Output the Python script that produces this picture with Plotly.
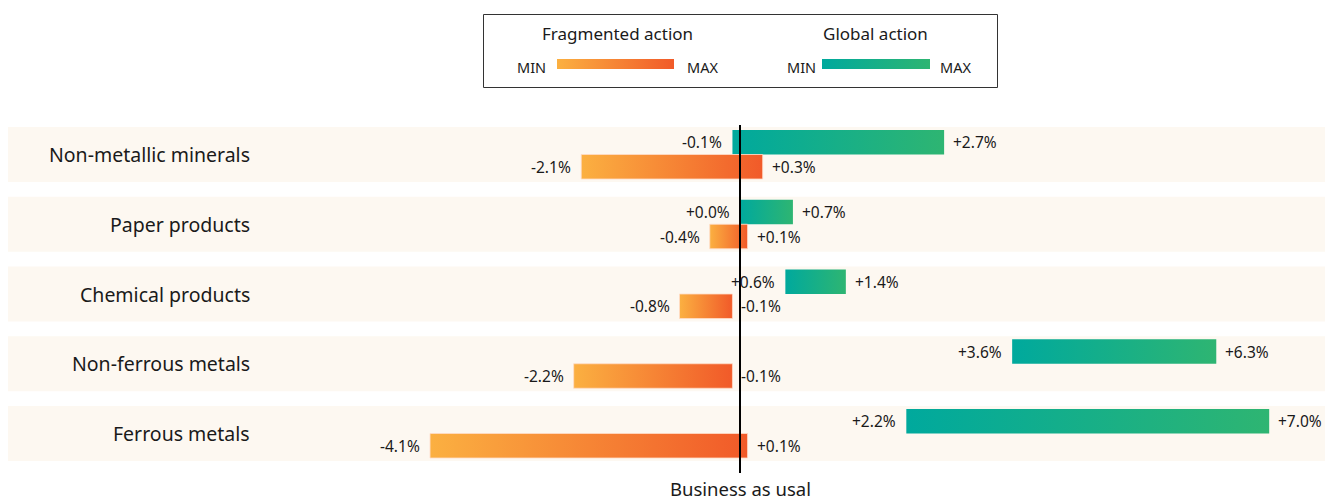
import plotly.graph_objects as go

categories = ["Non-metallic minerals", "Paper products", "Chemical products",
              "Non-ferrous metals", "Ferrous metals"]
global_min = [-0.1, 0.0, 0.6, 3.6, 2.2]
global_max = [2.7, 0.7, 1.4, 6.3, 7.0]
frag_min = [-2.1, -0.4, -0.8, -2.2, -4.1]
frag_max = [0.3, 0.1, -0.1, -0.1, 0.1]
legend_titles = ["Fragmented action", "Global action"]
baseline_label = "Business as usal"

ORANGE = [[0, "#FBB041"], [1, "#F15A29"]]
GREEN = [[0, "#00A99D"], [1, "#2EB572"]]
BAND = "#FDF8F1"
FONT = "Noto Sans"
TXT = "#1a1a1a"

W, H = 1333, 503
PX_PER_UNIT_X = 75.6
ZERO_PX = 740
x_range = [-ZERO_PX / PX_PER_UNIT_X, (W - ZERO_PX) / PX_PER_UNIT_X]
PX_PER_UNIT_Y = 69.75
FIRST_PX = 154.5
y_range = [(H - FIRST_PX) / PX_PER_UNIT_Y, -FIRST_PX / PX_PER_UNIT_Y]

BAR_H = 24.5 / PX_PER_UNIT_Y
BAND_HALF = 27.5 / PX_PER_UNIT_Y

fig = go.Figure()
shapes = []
annotations = []


def fmt(v):
    return ("+" if v >= 0 else "-") + f"{abs(v):.1f}%"


for i, cat in enumerate(categories):
    shapes.append(dict(type="rect", xref="paper", yref="y", x0=8 / W, x1=1325 / W,
                       y0=i - BAND_HALF, y1=i + BAND_HALF, fillcolor=BAND,
                       line=dict(width=0), layer="below"))
    annotations.append(dict(text=cat, xref="paper", yref="y", x=252 / W, y=i,
                            xanchor="right", yanchor="middle", showarrow=False,
                            font=dict(family=FONT, size=19.5, color=TXT)))
    for lo, hi, y0, y1, cs, edge in [
        (global_min[i], global_max[i], i - BAR_H, i, GREEN, "rgba(0,0,0,0)"),
        (frag_min[i], frag_max[i], i, i + BAR_H, ORANGE, "rgba(255,220,200,0.8)"),
    ]:
        fig.add_trace(go.Scatter(
            x=[lo, hi, hi, lo, lo], y=[y0, y0, y1, y1, y0], mode="lines",
            fill="toself", line=dict(width=1, color=edge),
            fillgradient=dict(type="horizontal", colorscale=cs),
            hoverinfo="skip", showlegend=False))
        yc = (y0 + y1) / 2
        annotations.append(dict(text=fmt(lo), x=lo, y=yc, xanchor="right", yanchor="middle",
                                xshift=-8, showarrow=False,
                                font=dict(family=FONT, size=15.5, color=TXT)))
        annotations.append(dict(text=fmt(hi), x=hi, y=yc, xanchor="left", yanchor="middle",
                                xshift=7, showarrow=False,
                                font=dict(family=FONT, size=15.5, color=TXT)))

# baseline
shapes.append(dict(type="line", xref="x", yref="paper", x0=0, x1=0,
                   y0=1 - 125 / H, y1=1 - 473 / H, line=dict(color="black", width=2)))
annotations.append(dict(text=baseline_label, x=0, xref="x", yref="paper", y=0,
                        xanchor="center", yanchor="bottom", showarrow=False,
                        font=dict(family=FONT, size=18.5, color=TXT)))

# legend box
shapes.append(dict(type="rect", xref="paper", yref="paper", x0=483.5 / W, x1=997.5 / W,
                   y0=1 - 87.5 / H, y1=1 - 14.5 / H, line=dict(color="#333", width=1),
                   fillcolor="rgba(0,0,0,0)"))
for title, cx, mn, mx, sw0, sw1, cs in [
    (legend_titles[0], 617, 531, 702, 557, 674, ORANGE),
    (legend_titles[1], 875, 801, 955, 822, 930, GREEN),
]:
    annotations.append(dict(text=title, xref="paper", yref="paper", x=cx / W, y=1 - 33 / H,
                            xanchor="center", yanchor="middle", showarrow=False,
                            font=dict(family=FONT, size=17, color=TXT)))
    annotations.append(dict(text="MIN", xref="paper", yref="paper", x=mn / W, y=1 - 67 / H,
                            xanchor="center", yanchor="middle", showarrow=False,
                            font=dict(family=FONT, size=14.5, color=TXT)))
    annotations.append(dict(text="MAX", xref="paper", yref="paper", x=mx / W, y=1 - 67 / H,
                            xanchor="center", yanchor="middle", showarrow=False,
                            font=dict(family=FONT, size=14.5, color=TXT)))
    fig.add_trace(go.Scatter(
        x=[None], y=[None], mode="markers", hoverinfo="skip", showlegend=False,
        marker=dict(color=[0], colorscale=cs, cmin=0, cmax=1, showscale=True,
                    colorbar=dict(orientation="h", x=(sw0 + sw1) / 2 / W, xanchor="center",
                                  y=1 - 59 / H, yanchor="top",
                                  len=sw1 - sw0, lenmode="pixels", thickness=10,
                                  thicknessmode="pixels", outlinewidth=0, ticks="",
                                  showticklabels=False, xpad=0, ypad=0))))

fig.update_layout(
    width=W, height=H, margin=dict(l=0, r=0, t=0, b=0),
    paper_bgcolor="white", plot_bgcolor="white",
    xaxis=dict(range=x_range, visible=False, fixedrange=True),
    yaxis=dict(range=y_range, visible=False, fixedrange=True),
    shapes=shapes, annotations=annotations, showlegend=False,
)
fig.write_html("out.html", config={"displayModeBar": False},
               post_script="document.body.style.margin='0';document.body.style.overflow='hidden';")
